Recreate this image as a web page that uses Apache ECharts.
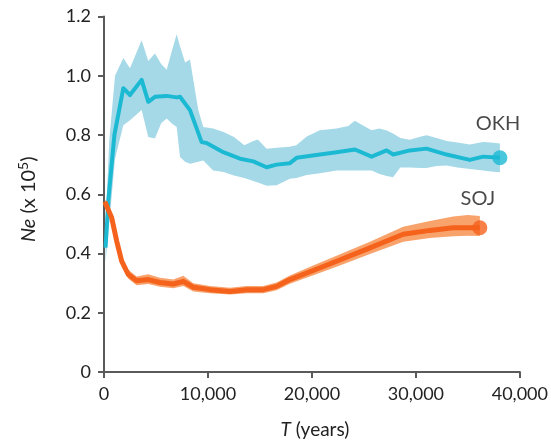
<!DOCTYPE html>
<html>
<head>
<meta charset="utf-8">
<script src="https://cdn.jsdelivr.net/npm/echarts@6/dist/echarts.min.js"></script>
<style>
  html, body { margin: 0; padding: 0; background: #fff; }
  #chart { width: 551px; height: 445px; }
</style>
</head>
<body>
<div id="chart"></div>
<script>
// ---- data ----
const xTicks = [0, 10000, 20000, 30000, 40000];
const yTicks = [0, 0.2, 0.4, 0.6, 0.8, 1.0, 1.2];

const okhX = [150, 415, 1000, 1860, 2500, 3620, 4260, 4900, 6030, 6990, 7310, 8270, 9390, 9870, 11470, 13080, 14360, 15640, 16600, 17880, 18530, 20770, 22370, 24130, 25740, 27180, 27820, 29420, 31030, 32950, 35190, 36470, 38080];
const okhY = [0.42, 0.578, 0.80, 0.958, 0.935, 0.986, 0.912, 0.929, 0.932, 0.927, 0.929, 0.884, 0.776, 0.773, 0.742, 0.720, 0.711, 0.691, 0.700, 0.705, 0.723, 0.734, 0.742, 0.751, 0.727, 0.748, 0.734, 0.748, 0.754, 0.734, 0.716, 0.727, 0.723];

const okhBandX = [150, 500, 1060, 1860, 2500, 3620, 4260, 4900, 5500, 6030, 6500, 6990, 7310, 7800, 8270, 9070, 9550, 10500, 11500, 12500, 13500, 14360, 14800, 15640, 16600, 17880, 18500, 19500, 20770, 22370, 23500, 24130, 25000, 25740, 26500, 27200, 27800, 28500, 29420, 30500, 31030, 32000, 32950, 34000, 35190, 36470, 37200, 38080];
const okhUpper = [0.50, 0.78, 1.00, 1.06, 1.025, 1.12, 1.05, 1.075, 1.04, 1.02, 1.08, 1.14, 1.10, 1.045, 1.055, 0.884, 0.827, 0.822, 0.81, 0.793, 0.765, 0.78, 0.785, 0.754, 0.757, 0.76, 0.765, 0.795, 0.816, 0.822, 0.83, 0.848, 0.83, 0.816, 0.822, 0.815, 0.805, 0.79, 0.784, 0.795, 0.799, 0.79, 0.78, 0.775, 0.768, 0.776, 0.775, 0.771];
const okhLower = [0.37, 0.50, 0.72, 0.833, 0.85, 0.884, 0.793, 0.788, 0.84, 0.856, 0.84, 0.827, 0.726, 0.71, 0.703, 0.71, 0.714, 0.68, 0.675, 0.663, 0.655, 0.645, 0.64, 0.629, 0.63, 0.652, 0.655, 0.665, 0.671, 0.68, 0.68, 0.68, 0.68, 0.68, 0.668, 0.662, 0.657, 0.69, 0.69, 0.689, 0.689, 0.695, 0.697, 0.69, 0.685, 0.68, 0.677, 0.674];

const sojX = [80, 190, 740, 1220, 1700, 2340, 3140, 4260, 5380, 6670, 7630, 8590, 10190, 12120, 13720, 15320, 16600, 17880, 20000, 22370, 25580, 28780, 31350, 33590, 36150];
const sojY = [0.575, 0.572, 0.521, 0.442, 0.374, 0.329, 0.308, 0.312, 0.302, 0.297, 0.306, 0.286, 0.278, 0.272, 0.278, 0.278, 0.289, 0.312, 0.341, 0.374, 0.419, 0.465, 0.478, 0.487, 0.487];

const sojBandX = [80, 740, 1700, 2340, 3140, 4260, 5380, 6670, 7630, 8590, 10190, 12120, 13720, 15320, 16600, 17880, 20000, 22370, 25580, 28780, 31350, 33590, 35000, 36150];
const sojUpper = [0.585, 0.535, 0.39, 0.345, 0.322, 0.33, 0.318, 0.312, 0.325, 0.30, 0.29, 0.284, 0.29, 0.29, 0.302, 0.326, 0.358, 0.392, 0.44, 0.49, 0.51, 0.525, 0.53, 0.527];
const sojLower = [0.565, 0.505, 0.358, 0.315, 0.293, 0.297, 0.288, 0.283, 0.29, 0.272, 0.266, 0.262, 0.266, 0.266, 0.276, 0.298, 0.325, 0.355, 0.398, 0.44, 0.452, 0.458, 0.46, 0.459];

const seriesNames = ['OKH', 'SOJ'];

// ---- build ----
const FONT = 'Lato';
const okhLine = '#1cb9d3', okhBand = '#a5d9e8';
const sojLine = '#f5621c', sojBand = '#f8a26c';

const pairs = (xs, ys) => xs.map((x, i) => [x, ys[i]]);

function bandSeries(xs, lo, hi, color) {
  return {
    type: 'custom', silent: true, z: 1,
    data: [[xs[0], lo[0]]],
    renderItem: function (params, api) {
      const pts = [];
      for (let i = 0; i < xs.length; i++) pts.push(api.coord([xs[i], hi[i]]));
      for (let i = xs.length - 1; i >= 0; i--) pts.push(api.coord([xs[i], lo[i]]));
      return { type: 'polygon', shape: { points: pts }, style: { fill: color, stroke: null } };
    }
  };
}

const chart = echarts.init(document.getElementById('chart'), null, { renderer: 'canvas' });
chart.setOption({
  animation: false,
  backgroundColor: '#fff',
  grid: { left: 104, right: 31, top: 16.5, bottom: 73 },
  xAxis: {
    type: 'value', min: xTicks[0], max: xTicks[xTicks.length - 1], interval: 10000,
    axisLine: { show: true, lineStyle: { color: '#5a5a5a', width: 2 } },
    axisTick: { show: true, length: 6, lineStyle: { color: '#5a5a5a', width: 2 } },
    splitLine: { show: false },
    axisLabel: { margin: 13, color: '#222', fontFamily: FONT, fontSize: 18,
      formatter: v => v.toLocaleString('en-US') },
    name: '{it|T} (years)', nameLocation: 'middle', nameGap: 48,
    nameTextStyle: { color: '#222', fontFamily: FONT, fontSize: 19, padding: [0, 0, 0, 6],
      rich: { it: { fontStyle: 'italic', fontFamily: FONT, fontSize: 19, color: '#222' } } }
  },
  yAxis: {
    type: 'value', min: yTicks[0], max: yTicks[yTicks.length - 1], interval: 0.2,
    axisLine: { show: true, lineStyle: { color: '#5a5a5a', width: 2 } },
    axisTick: { show: true, length: 6, lineStyle: { color: '#5a5a5a', width: 2 } },
    splitLine: { show: false },
    axisLabel: { margin: 13, color: '#222', fontFamily: FONT, fontSize: 18,
      formatter: v => (v === 0 ? '0' : v.toFixed(1)) },
    name: '{it|Ne} (x 10{sup|5})', nameLocation: 'middle', nameRotate: 90, nameGap: 62,
    nameTextStyle: { color: '#222', fontFamily: FONT, fontSize: 20, padding: [0, 10, 0, 0],
      rich: {
        it: { fontStyle: 'italic', fontFamily: FONT, fontSize: 20, color: '#222', lineHeight: 26 },
        sup: { fontFamily: FONT, fontSize: 14, color: '#222', verticalAlign: 'top', lineHeight: 26 }
      } }
  },
  series: [
    bandSeries(okhBandX, okhLower, okhUpper, okhBand),
    bandSeries(sojBandX, sojLower, sojUpper, sojBand),
    { name: seriesNames[0], type: 'line', data: pairs(okhX, okhY), symbol: 'none',
      lineStyle: { color: okhLine, width: 4, join: 'round' }, z: 3 },
    { name: seriesNames[1], type: 'line', data: pairs(sojX, sojY), symbol: 'none',
      lineStyle: { color: sojLine, width: 5, join: 'round' }, z: 3 },
    { type: 'scatter', z: 4, symbol: 'circle', symbolSize: 15,
      data: [
        { value: [okhX[okhX.length - 1], okhY[okhY.length - 1]], itemStyle: { color: okhLine },
          label: { show: true, formatter: seriesNames[0], position: 'top', distance: 17 } },
        { value: [sojX[sojX.length - 1], sojY[sojY.length - 1]], itemStyle: { color: sojLine },
          label: { show: true, formatter: seriesNames[1], position: 'top', distance: 12 } }
      ],
      label: { color: '#1a1a1a', fontFamily: FONT, fontSize: 20, offset: [-2, 0] } }
  ]
});
</script>
</body>
</html>
